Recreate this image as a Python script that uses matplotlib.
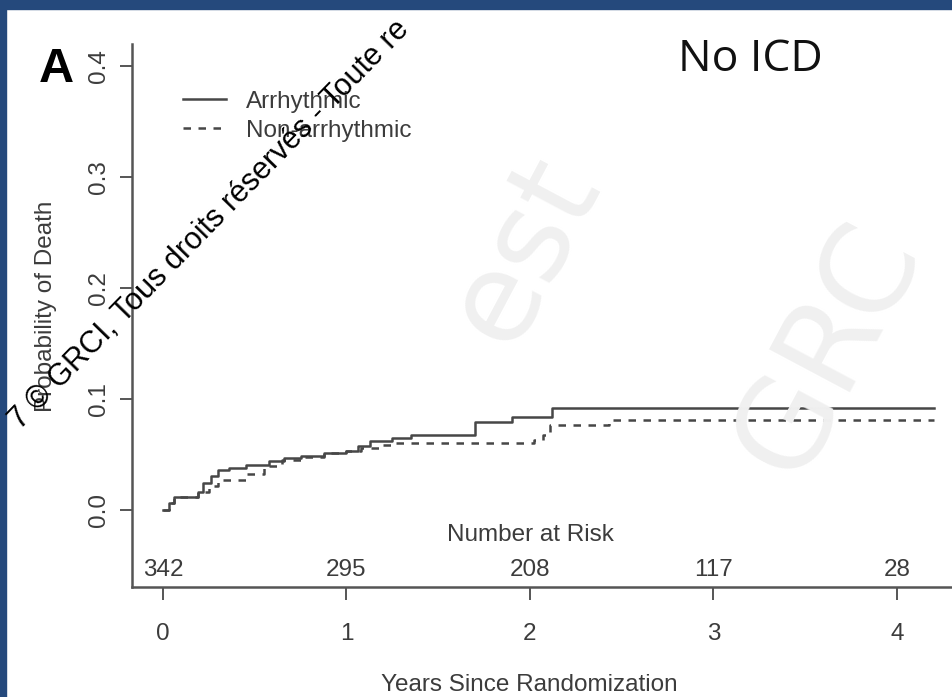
import numpy as np
import matplotlib.pyplot as plt
from matplotlib.patches import Rectangle
import matplotlib.transforms as mtransforms

plt.rcParams['font.family'] = ['Liberation Sans Narrow', 'Liberation Sans', 'DejaVu Sans']

# cumulative probability of death (step functions)
arr_t = [0, 0.03, 0.06, 0.19, 0.22, 0.26, 0.30, 0.36, 0.45, 0.58, 0.66, 0.75,
         0.88, 1.00, 1.06, 1.13, 1.25, 1.35, 1.70, 1.90, 2.12, 4.20]
arr_p = [0.000, 0.006, 0.012, 0.016, 0.024, 0.031, 0.036, 0.038, 0.041, 0.044,
         0.047, 0.049, 0.051, 0.053, 0.058, 0.062, 0.065, 0.068, 0.079, 0.084,
         0.092, 0.092]

non_t = [0, 0.03, 0.06, 0.19, 0.25, 0.30, 0.45, 0.55, 0.65, 0.75, 0.88, 1.00,
         1.08, 1.18, 1.27, 2.02, 2.07, 2.11, 2.43, 4.20]
non_p = [0.000, 0.006, 0.012, 0.016, 0.022, 0.027, 0.032, 0.040, 0.045, 0.048,
         0.051, 0.053, 0.056, 0.059, 0.060, 0.063, 0.068, 0.077, 0.081, 0.081]

risk_years = [0, 1, 2, 3, 4]
risk_counts = ['342', '295', '208', '117', '28']
yticks = [0.0, 0.1, 0.2, 0.3, 0.4]

W, H = 952, 697
fs = 17.5
tcol = '#3c3c3c'

fig = plt.figure(figsize=(W / 100, H / 100), dpi=100)
fig.patch.set_facecolor('white')

# blue frame of the slide
fig.patches.append(Rectangle((0, 1 - 9 / H), 1, 9 / H, transform=fig.transFigure,
                             color='#25497c', zorder=5))
fig.patches.append(Rectangle((0, 0), 6 / W, 1, transform=fig.transFigure,
                             color='#25497c', zorder=5))

# faint background watermark
wm = dict(color='#f0f0f0', fontsize=90, rotation=62, zorder=0,
          ha='center', va='center', family='DejaVu Sans')
fig.text(0.55, 0.64, 'est', **wm)
fig.text(0.87, 0.50, 'GRC', **wm)

ax = fig.add_axes([132 / W, (H - 587) / H, 820 / W, 543 / H])
ax.patch.set_alpha(0)
gray = '#474747'
ax.step(arr_t, arr_p, where='post', color=gray, lw=1.8, label='Arrhythmic')
ax.step(non_t, non_p, where='post', color=gray, lw=1.8, ls=(0, (3, 3)),
        label='Non-arrhythmic')

ax.set_xlim(-0.169, 4.30)
ax.set_ylim(-0.0694, 0.42)
for s in ['top', 'right']:
    ax.spines[s].set_visible(False)
for s in ['left', 'bottom']:
    ax.spines[s].set_color('#555555')
    ax.spines[s].set_linewidth(1.8)

ax.set_yticks(yticks)
ax.set_yticklabels(['0.0', '0.1', '0.2', '0.3', '0.4'])
ax.set_xticks(risk_years)
ax.tick_params(axis='y', length=9, width=1.4, color='#555555', labelrotation=90,
               pad=7, labelsize=fs, labelcolor=tcol)
ax.tick_params(axis='x', length=9, width=1.4, color='#555555', pad=17,
               labelsize=fs, labelcolor=tcol)
for lab in ax.get_yticklabels():
    lab.set_va('center')

ax.set_ylabel('Probability of Death', fontsize=fs, color=tcol)
ax.yaxis.set_label_coords(-0.0915, 0.516)
ax.set_xlabel('Years Since Randomization', fontsize=fs, color=tcol)
ax.xaxis.set_label_coords(0.485, -0.161)

# number at risk table inside the plot
trans = mtransforms.blended_transform_factory(ax.transData, ax.transAxes)
ax.text(2, 0.096, 'Number at Risk', transform=trans, ha='center', va='center',
        fontsize=fs, color=tcol)
for yr, n in zip(risk_years, risk_counts):
    ax.text(yr, 0.031, n, transform=trans, ha='center', va='center',
            fontsize=fs, color=tcol)

leg = ax.legend(loc='upper left', bbox_to_anchor=(0.038, 0.95), frameon=False,
                fontsize=fs, handlelength=1.8, handletextpad=0.8,
                labelspacing=0.3, borderpad=0.3)
for t in leg.get_texts():
    t.set_color(tcol)

fig.text(56 / W, 1 - 70 / H, 'A', fontsize=35, fontweight='bold',
         family='Liberation Sans', ha='center', va='center')
fig.text(750 / W, 1 - 60 / H, 'No ICD', fontsize=32, family='Open Sans',
         ha='center', va='center', color='#111111')

# copyright watermark across the top left (only the part visible in the slide)
fig.text(20 / W, 1 - 430 / H, '7 © GRCI, Tous droits réservés - Toute re',
         fontsize=22, rotation=45.7, rotation_mode='anchor', ha='left',
         va='baseline', family='Liberation Sans', color='black', zorder=10)

fig.savefig('out.png', dpi=100)
